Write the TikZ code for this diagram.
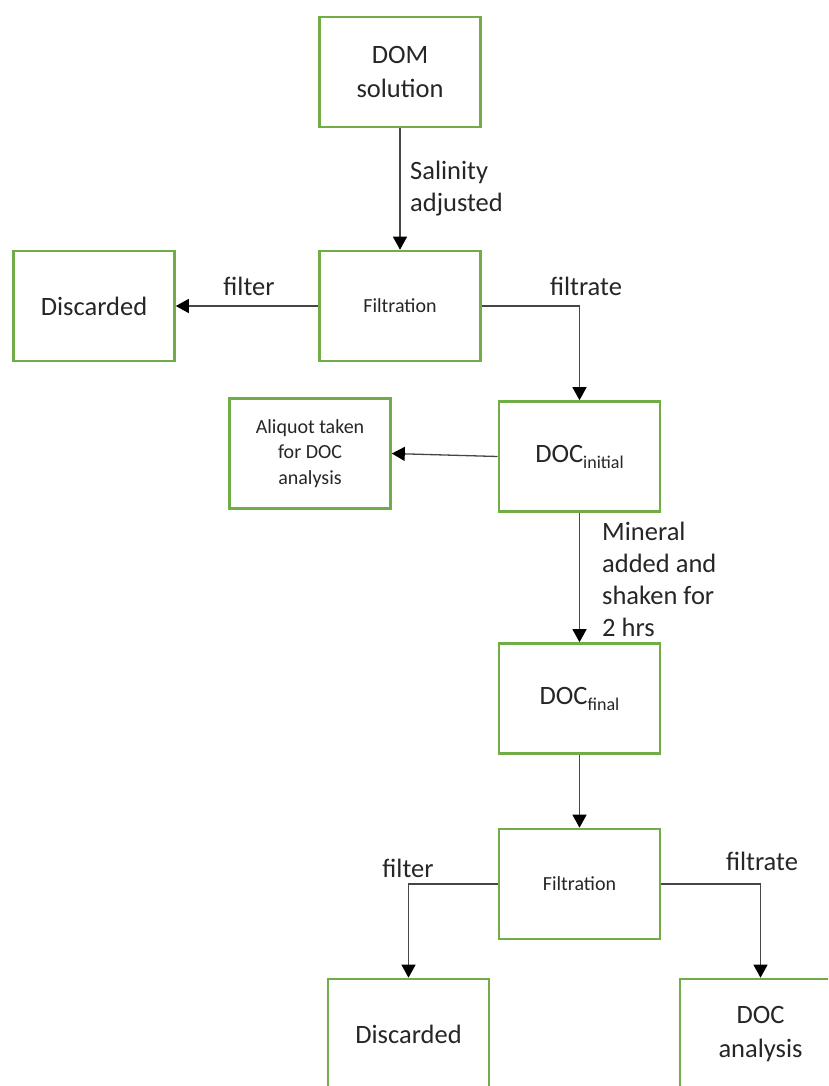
\documentclass[tikz,border=0pt]{standalone}
\usepackage{fontspec}
\setmainfont{Carlito}
\usetikzlibrary{arrows.meta}
\definecolor{boxgreen}{RGB}{112,173,71}
\definecolor{linegray}{RGB}{70,70,70}
\definecolor{ink}{RGB}{38,38,38}
\tikzset{
  box/.style={draw=boxgreen, line width=2.6pt, minimum width=161pt,
    minimum height=110pt, align=center, inner sep=0pt, fill=white, text=ink},
  big/.style={font=\fontsize{26.5}{34}\selectfont},
  small/.style={font=\fontsize{20}{25.5}\selectfont},
  flow/.style={draw=linegray, line width=1.3pt,
    -{Triangle[width=14pt,length=13pt,color=black]}},
  lbl/.style={font=\fontsize{26.5}{32}\selectfont, inner sep=0pt, text=ink}
}
\newcommand{\docsub}[1]{DOC\raisebox{-6pt}{\fontsize{18}{18}\selectfont #1}}
\begin{document}
\begin{tikzpicture}[x=1pt,y=-1pt]
\useasboundingbox (0,0) rectangle (828,1086);
\clip (0,0) rectangle (828,1086);

% process boxes
\node[box,big]   (dom)   at (400,72)     {DOM\\solution};
\node[box,small] (filt1) at (400,306)    {Filtration};
\node[box,big]   (disc1) at (94,306)     {Discarded};
\node[box,big]   (doci)  at (579.5,456.5) {\docsub{initial}};
\node[box,small] (aliq)  at (310,453.5)  {\raisebox{-4pt}{\begin{tabular}{@{}c@{}}Aliquot taken\\for DOC\\analysis\end{tabular}}};
\node[box,big]   (docf)  at (579.5,698.5) {\docsub{final}};
\node[box,small] (filt2) at (579.5,884)  {Filtration};
\node[box,big]   (disc2) at (408.5,1034) {Discarded};
\node[box,big]   (doca)  at (760.5,1034) {DOC\\analysis};

% connectors
\draw[flow] (dom) -- (filt1);
\draw[flow] (filt1) -- (disc1);
\draw[flow] (filt1.east) -| (doci.north);
\draw[flow] (doci.west) -- (aliq.east);
\draw[flow] (doci) -- (docf);
\draw[flow] (docf) -- (filt2);
\draw[flow] (filt2.west) -| (disc2.north);
\draw[flow] (filt2.east) -| (doca.north);

% connector labels
\node[lbl, anchor=west, align=left] (sal) at (410,189) {Salinity\\adjusted};
\node[lbl] (fil1) at (249,286) {filter};
\node[lbl] (ftr1) at (586,286) {filtrate};
\node[lbl, anchor=west, align=left] (mix) at (602,579) {Mineral\\added and\\shaken for\\2 hrs};
\node[lbl] (fil2) at (408,868) {filter};
\node[lbl] (ftr2) at (762,861) {filtrate};
\end{tikzpicture}
\end{document}
